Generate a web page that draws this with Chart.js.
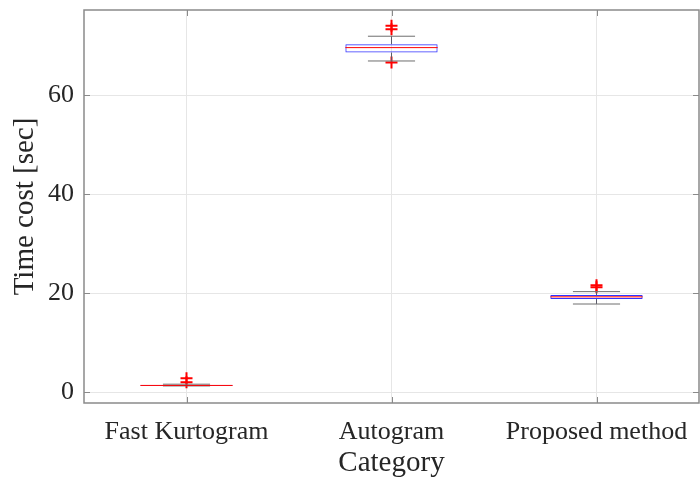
<!DOCTYPE html>
<html>
<head>
<meta charset="utf-8">
<script src="https://cdn.jsdelivr.net/npm/chart.js@4.4.0/dist/chart.umd.min.js"></script>
<style>
  html, body { margin: 0; padding: 0; background: #ffffff; }
  #wrap { width: 700px; height: 481px; position: relative; }
</style>
</head>
<body>
<div id="wrap"><canvas id="c" width="700" height="481"></canvas></div>
<script>
// ---- data ----
const categories = ['Fast Kurtogram', 'Autogram', 'Proposed method'];
const lowerWhisker = [1.25, 66.9, 17.8];
const q1 = [1.3, 68.6, 18.8];
const medians = [1.35, 69.6, 19.25];
const q3 = [1.45, 70.3, 19.6];
const upperWhisker = [1.6, 71.9, 20.3];
const outliers = [[2.0, 2.8], [66.6, 73.3, 74.0], [21.2, 21.6]];
const yTicks = [0, 20, 40, 60];

const FONT = "'Liberation Serif', 'Times New Roman', serif";
const TEXT = '#262626';
const AXIS = '#8a8a8a';

const outlierPoints = [];
outliers.forEach((arr, i) => arr.forEach(v => outlierPoints.push({ x: categories[i], y: v })));

const boxPlugin = {
  id: 'boxExtras',
  beforeDatasetsDraw(chart) {
    const { ctx, chartArea: a } = chart;
    ctx.save();
    ctx.strokeStyle = AXIS;
    ctx.lineWidth = 1;
    const ys = chart.scales.y, xs = chart.scales.x;
    yTicks.forEach(v => {
      const y = Math.round(ys.getPixelForValue(v)) + 0.5;
      ctx.beginPath(); ctx.moveTo(a.left, y); ctx.lineTo(a.left + 6, y); ctx.stroke();
      ctx.beginPath(); ctx.moveTo(a.right, y); ctx.lineTo(a.right - 6, y); ctx.stroke();
    });
    categories.forEach((c, i) => {
      const x = Math.round(xs.getPixelForValue(i)) + 0.5;
      ctx.beginPath(); ctx.moveTo(x, a.bottom); ctx.lineTo(x, a.bottom - 6); ctx.stroke();
      ctx.beginPath(); ctx.moveTo(x, a.top); ctx.lineTo(x, a.top + 6); ctx.stroke();
    });
    ctx.restore();
  },
  afterDatasetsDraw(chart) {
    const { ctx, chartArea: a } = chart;
    const ys = chart.scales.y, xs = chart.scales.x;
    const unit = xs.getPixelForValue(1) - xs.getPixelForValue(0);
    const boxHalf = unit * 0.45 / 2;
    const capHalf = unit * 0.23 / 2;
    ctx.save();
    categories.forEach((c, i) => {
      const x = xs.getPixelForValue(i);
      const yq1 = ys.getPixelForValue(q1[i]);
      const yq3 = ys.getPixelForValue(q3[i]);
      const ylw = ys.getPixelForValue(lowerWhisker[i]);
      const yuw = ys.getPixelForValue(upperWhisker[i]);
      const ym = ys.getPixelForValue(medians[i]);
      ctx.strokeStyle = '#5a5a6a';
      ctx.lineWidth = 1;
      ctx.beginPath(); ctx.moveTo(x, yq3); ctx.lineTo(x, yuw); ctx.stroke();
      ctx.beginPath(); ctx.moveTo(x, yq1); ctx.lineTo(x, ylw); ctx.stroke();
      ctx.strokeStyle = '#6e6e6e';
      ctx.beginPath(); ctx.moveTo(x - capHalf, yuw); ctx.lineTo(x + capHalf, yuw); ctx.stroke();
      ctx.beginPath(); ctx.moveTo(x - capHalf, ylw); ctx.lineTo(x + capHalf, ylw); ctx.stroke();
      ctx.strokeStyle = '#ff0000';
      ctx.beginPath(); ctx.moveTo(x - boxHalf, ym); ctx.lineTo(x + boxHalf, ym); ctx.stroke();
    });
    ctx.strokeStyle = AXIS;
    ctx.lineWidth = 1.5;
    ctx.strokeRect(a.left, a.top, a.right - a.left, a.bottom - a.top);
    ctx.restore();
  }
};

new Chart(document.getElementById('c'), {
  type: 'bar',
  data: {
    labels: categories,
    datasets: [
      {
        type: 'bar',
        data: q1.map((v, i) => [v, q3[i]]),
        backgroundColor: 'rgba(0,0,0,0)',
        borderColor: '#3333ff',
        borderWidth: 1,
        borderSkipped: false,
        categoryPercentage: 1,
        barPercentage: 0.45,
        order: 2
      },
      {
        type: 'line',
        data: outlierPoints,
        showLine: false,
        clip: false,
        pointStyle: 'cross',
        pointRadius: 6,
        pointBorderWidth: 2,
        pointBorderColor: '#ff0000',
        pointBackgroundColor: '#ff0000',
        order: 1
      }
    ]
  },
  options: {
    responsive: false,
    animation: false,
    devicePixelRatio: 1,
    layout: { autoPadding: false, padding: { top: 10, right: 1, left: 0, bottom: 0 } },
    plugins: { legend: { display: false }, tooltip: { enabled: false } },
    scales: {
      x: {
        type: 'category',
        offset: true,
        grid: { display: true, offset: false, color: '#e6e6e6', drawTicks: false },
        border: { display: false },
        ticks: { color: TEXT, font: { family: FONT, size: 26 }, padding: 14, maxRotation: 0 },
        title: { display: true, text: 'Category', color: TEXT, font: { family: FONT, size: 29 }, padding: { top: 3, bottom: 0 } },
        afterFit: s => { s.height = 78; s.paddingLeft = 0; s.paddingRight = 0; }
      },
      y: {
        type: 'linear',
        min: -2.2,
        max: 77.2,
        afterBuildTicks: s => { s.ticks = yTicks.map(v => ({ value: v })); },
        grid: { color: '#e6e6e6', drawTicks: false },
        border: { display: false },
        ticks: { color: TEXT, font: { family: FONT, size: 26 }, padding: 10 },
        title: { display: true, text: 'Time cost [sec]', color: TEXT, font: { family: FONT, size: 29 }, padding: { top: 8, bottom: 0 } },
        afterFit: s => { s.width = 84; s.paddingTop = 0; s.paddingBottom = 0; }
      }
    }
  },
  plugins: [boxPlugin]
});
</script>
</body>
</html>
